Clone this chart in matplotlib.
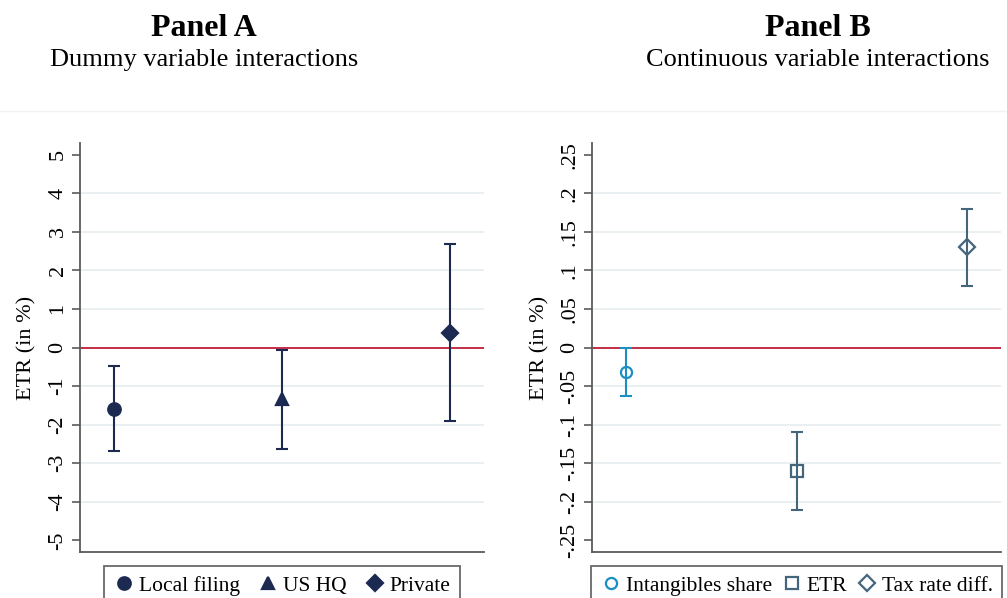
import matplotlib
matplotlib.use("Agg")
import matplotlib.pyplot as plt
from matplotlib.lines import Line2D

plt.rcParams["font.family"] = ["Liberation Serif", "DejaVu Serif"]

# Panel A: dummy variable interactions
labels_a = ["Local filing", "US HQ", "Private"]
coef_a = [-1.59, -1.34, 0.37]
lo_a = [-2.69, -2.62, -1.91]
hi_a = [-0.47, -0.07, 2.67]
yticks_a = [-5, -4, -3, -2, -1, 0, 1, 2, 3, 4, 5]
yticklabels_a = ["-5", "-4", "-3", "-2", "-1", "0", "1", "2", "3", "4", "5"]

# Panel B: continuous variable interactions
labels_b = ["Intangibles share", "ETR", "Tax rate diff."]
coef_b = [-0.032, -0.160, 0.130]
lo_b = [-0.063, -0.211, 0.080]
hi_b = [0.0, -0.110, 0.179]
yticks_b = [-0.25, -0.2, -0.15, -0.1, -0.05, 0, 0.05, 0.1, 0.15, 0.2, 0.25]
yticklabels_b = ["-.25", "-.2", "-.15", "-.1", "-.05", "0", ".05", ".1", ".15", ".2", ".25"]

W, H = 1007, 598
fig = plt.figure(figsize=(W / 100, H / 100), dpi=100)
fig.patch.set_facecolor("white")

NAVY = "#1c2a52"
CYAN = "#1b8fc1"
SLATE = "#45657d"
REF = "#c41e3a"
GRID = "#e6eeef"
AXIS = "#5a5a5a"


def style_axes(ax, yticks, yticklabels, ylim, labelpad):
    ax.set_xlim(0.8, 3.2)
    ax.set_ylim(*ylim)
    ax.set_xticks([])
    ax.set_yticks(yticks)
    ax.set_yticklabels(yticklabels, rotation=90, va="center", fontsize=16)
    for y in yticks[1:-1]:
        ax.axhline(y, color=GRID, lw=1.2, zorder=0)
    ax.axhline(0, color=REF, lw=1.3, zorder=1)
    for s in ("top", "right"):
        ax.spines[s].set_visible(False)
    for s in ("left", "bottom"):
        ax.spines[s].set_color(AXIS)
        ax.spines[s].set_linewidth(1.3)
    ax.tick_params(axis="y", direction="out", length=6, width=1.2,
                   color=AXIS, pad=3)
    ax.set_ylabel("ETR (in %)", fontsize=16, labelpad=labelpad)


def draw_panel(ax, coef, lo, hi, markers, colors, faces, sizes):
    xs = [1, 2, 3]
    handles = []
    for x, c, l, h, m, col, fc, ms in zip(xs, coef, lo, hi, markers, colors, faces, sizes):
        ax.errorbar([x], [c], yerr=[[c - l], [h - c]], fmt="none",
                    ecolor=col, elinewidth=1.5, capsize=4.5, capthick=1.5, zorder=3)
        ax.plot([x], [c], marker=m, ms=ms, color=col, mfc=fc, mec=col,
                mew=1.6, ls="none", zorder=4)
        handles.append(Line2D([], [], marker=m, ms=ms, color=col, mfc=fc,
                              mec=col, mew=1.6, ls="none"))
    return handles


# Panel A axes
axA = fig.add_axes([80 / W, 1 - 552 / H, (484 - 80) / W, (552 - 143) / H])
style_axes(axA, yticks_a, yticklabels_a, (-5.3, 5.3), 9)
hA = draw_panel(axA, coef_a, lo_a, hi_a, ["o", "^", "D"],
                [NAVY] * 3, [NAVY] * 3, [9, 9, 8])

# Panel B axes
axB = fig.add_axes([592 / W, 1 - 552 / H, (1001 - 592) / W, (552 - 143) / H])
style_axes(axB, yticks_b, yticklabels_b, (-0.265, 0.265), 8)
hB = draw_panel(axB, coef_b, lo_b, hi_b, ["o", "s", "D"],
                [CYAN, SLATE, SLATE], ["none"] * 3, [8, 8, 8])

# Legends below each panel
for handles, labels, cx, colsp in ((hA, labels_a, 282, 0.8),
                                   (hB, labels_b, 796.5, 0.4)):
    leg = fig.legend(handles, labels, loc="upper center",
                     bbox_to_anchor=(cx / W, 1 - 566 / H), ncol=3,
                     fontsize=15.5, frameon=True, fancybox=False,
                     handletextpad=0.2, columnspacing=colsp, handlelength=1.0,
                     borderpad=0.45, borderaxespad=0)
    leg.get_frame().set_edgecolor("#444444")
    leg.get_frame().set_linewidth(1.3)

# Titles
fig.text(204 / W, 1 - 28 / H, "Panel A", ha="center", va="center",
         fontsize=23, fontweight="bold")
fig.text(204 / W, 1 - 60 / H, "Dummy variable interactions", ha="center",
         va="center", fontsize=19)
fig.text(818 / W, 1 - 28 / H, "Panel B", ha="center", va="center",
         fontsize=23, fontweight="bold")
fig.text(818 / W, 1 - 60 / H, "Continuous variable interactions", ha="center",
         va="center", fontsize=19)

# faint separator beneath the title band
fig.add_artist(Line2D([0, 1], [1 - 111 / H, 1 - 111 / H], color="#f1f3f3",
                      lw=1, transform=fig.transFigure))

fig.savefig("out.png", dpi=100, facecolor="white")
